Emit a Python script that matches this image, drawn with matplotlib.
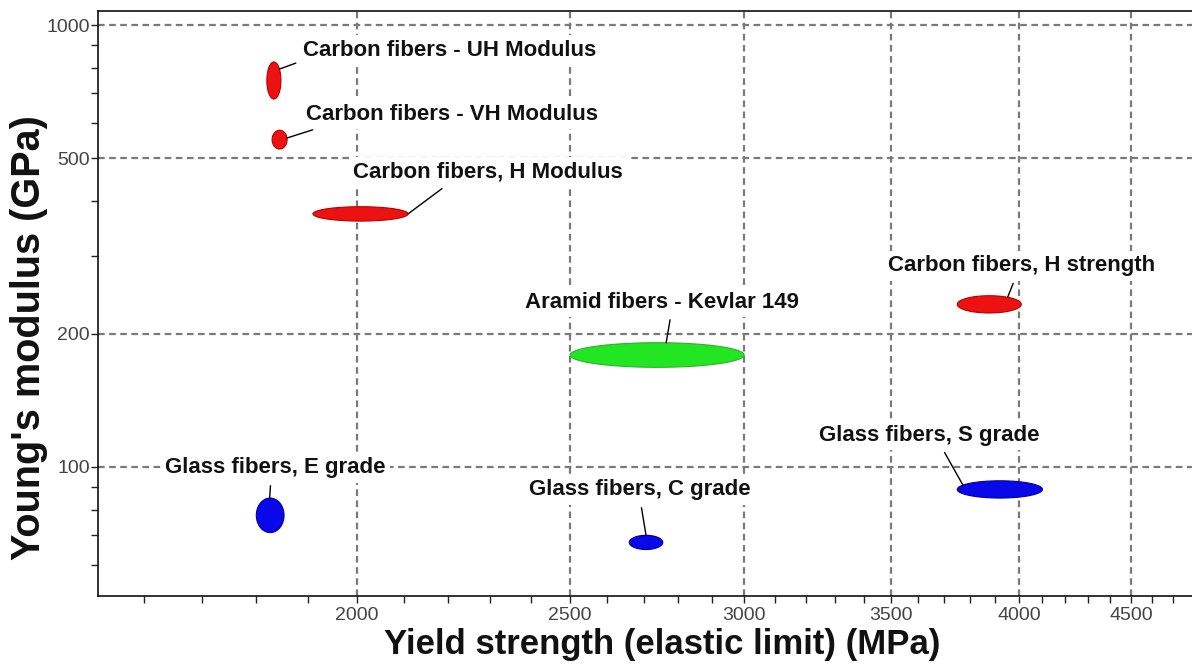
import numpy as np
import matplotlib
matplotlib.use("Agg")
import matplotlib.pyplot as plt
from matplotlib.ticker import FixedLocator, FixedFormatter, NullFormatter

plt.rcParams.update({
    "font.family": ["Liberation Sans", "DejaVu Sans"],
    "figure.facecolor": "white",
    "axes.facecolor": "white",
})

# Fibre families: strength range (MPa) and modulus range (GPa)
names = [
    "Carbon fibers - UH Modulus",
    "Carbon fibers - VH Modulus",
    "Carbon fibers, H Modulus",
    "Aramid fibers - Kevlar 149",
    "Carbon fibers, H strength",
    "Glass fibers, S grade",
    "Glass fibers, E grade",
    "Glass fibers, C grade",
]
family = ["carbon", "carbon", "carbon", "aramid", "carbon", "glass", "glass", "glass"]
strength_lo = [1820, 1830, 1910, 2500, 3750, 3750, 1800, 2660]
strength_hi = [1847, 1859, 2110, 3000, 4010, 4100, 1853, 2755]
modulus_lo = [680, 524, 360, 168, 223, 85, 71, 65]
modulus_hi = [825, 578, 388, 191, 244, 93, 85, 70]

x_major = [2000, 2500, 3000, 3500, 4000, 4500]
x_minor = [1600, 1700, 1800, 1900, 2100, 2200, 2300, 2400, 2600, 2700, 2800, 2900,
           3100, 3200, 3300, 3400, 3600, 3700, 3800, 3900, 4100, 4200, 4300, 4400,
           4600, 4700]
y_major = [100, 200, 500, 1000]
y_minor = [60, 70, 80, 90, 300, 400, 600, 700, 800, 900]

# label placement (left edge / vertical centre, data units) and leader attach angle
label_x = [1890, 1896, 1992, 2384, 3487, 3246, 1636, 2396]
label_y = [878, 629, 465, 236, 285, 118, 99.5, 88.7]
leader_deg = [38, 10, 0, 84, 55, 150, 92, 90]
leader_rel = [(0.0, 0.0), (0.08, 0.0), (0.36, 0.0), (0.535, 0.0),
              (0.48, 0.0), (0.55, 0.0), (0.48, 0.0), (0.5, 0.0)]

FACE = {"carbon": "#EC1212", "aramid": "#22E622", "glass": "#0808E8"}
EDGE = {"carbon": "#B80000", "aramid": "#30B030", "glass": "#0000A0"}


def ellipse_log(x0, x1, y0, y1, t):
    """Point(s) on an ellipse spanning [x0,x1]x[y0,y1] drawn in log-log space."""
    lx0, lx1, ly0, ly1 = np.log10([x0, x1, y0, y1])
    cx, rx = (lx0 + lx1) / 2, (lx1 - lx0) / 2
    cy, ry = (ly0 + ly1) / 2, (ly1 - ly0) / 2
    return 10 ** (cx + rx * np.cos(t)), 10 ** (cy + ry * np.sin(t))


fig = plt.figure(figsize=(11.92, 6.66), dpi=100)
ax = fig.add_axes([0.0822, 0.105, 0.9178, 0.8785])
ax.set_xscale("log")
ax.set_yscale("log")
ax.set_xlim(1525, 4795)
ax.set_ylim(51, 1076)

t = np.linspace(0, 2 * np.pi, 200)
for i, name in enumerate(names):
    ex, ey = ellipse_log(strength_lo[i], strength_hi[i], modulus_lo[i], modulus_hi[i], t)
    ax.fill(ex, ey, fc=FACE[family[i]], ec=EDGE[family[i]], lw=0.8, zorder=2)

    px, py = ellipse_log(strength_lo[i], strength_hi[i], modulus_lo[i], modulus_hi[i],
                         np.deg2rad(leader_deg[i]))
    ax.annotate(name, xy=(px, py), xytext=(label_x[i], label_y[i]),
                ha="left", va="center", fontsize=16, fontweight="bold", color="#111111",
                bbox=dict(boxstyle="square,pad=0.2", fc="white", ec="none"),
                arrowprops=dict(arrowstyle="-", color="black", lw=1.0,
                                relpos=leader_rel[i], shrinkA=2, shrinkB=0),
                zorder=4)

# ticks and grid
ax.xaxis.set_major_locator(FixedLocator(x_major))
ax.xaxis.set_major_formatter(FixedFormatter([str(v) for v in x_major]))
ax.xaxis.set_minor_locator(FixedLocator(x_minor))
ax.xaxis.set_minor_formatter(NullFormatter())
ax.yaxis.set_major_locator(FixedLocator(y_major))
ax.yaxis.set_major_formatter(FixedFormatter([str(v) for v in y_major]))
ax.yaxis.set_minor_locator(FixedLocator(y_minor))
ax.yaxis.set_minor_formatter(NullFormatter())

ax.tick_params(which="both", direction="out", length=5, width=1, color="#222222",
               labelsize=14, labelcolor="#444444")
ax.tick_params(axis="x", pad=3)
ax.tick_params(axis="y", pad=1)
ax.set_axisbelow(True)
ax.grid(True, which="major", color="#7a7a7a", ls=(0, (3, 2)), lw=1.6)

ax.spines["right"].set_visible(False)
for s in ("left", "bottom", "top"):
    ax.spines[s].set_linewidth(1.2)
    ax.spines[s].set_color("#111111")

ax.set_xlabel("Yield strength (elastic limit) (MPa)", fontsize=25, fontweight="bold",
              color="#111111")
ax.set_ylabel("Young's modulus (GPa)", fontsize=28.5, fontweight="bold", color="#111111")
ax.xaxis.set_label_coords(0.516, -0.0547)
ax.yaxis.set_label_coords(-0.0457, 0.441)

fig.savefig("out.png", dpi=100)
